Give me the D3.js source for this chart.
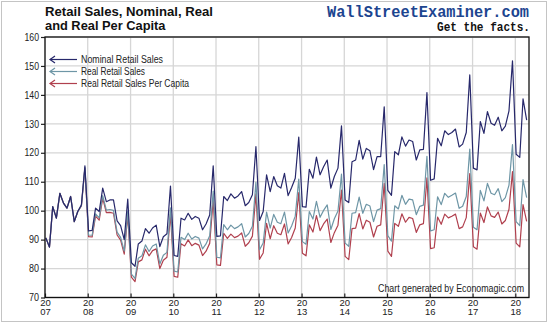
<!DOCTYPE html>
<html>
<head>
<meta charset="utf-8">
<script src="https://cdn.jsdelivr.net/npm/d3@7"></script>
<style>
  html, body { margin: 0; padding: 0; background: #ffffff; }
  svg { display: block; }
</style>
</head>
<body>
<div id="chart"></div>
<script>
// Monthly index values, January 2007 onward
const startYear = 2007;
const yearTicks = [2007, 2008, 2009, 2010, 2011, 2012, 2013, 2014, 2015, 2016, 2017, 2018];
const valueTicks = [70, 80, 90, 100, 110, 120, 130, 140, 150, 160];

const nominal = [
  90.6, 87.4, 101.4, 97.4, 106.0, 102.6, 100.9, 104.9, 96.2, 99.7, 102.0, 115.5,
  93.0, 93.2, 100.9, 99.7, 107.8, 103.1, 103.7, 103.7, 96.5, 94.8, 90.0, 104.0,
  82.0, 80.8, 88.5, 89.5, 93.8, 92.2, 94.0, 95.0, 87.6, 91.0, 92.0, 108.5,
  84.5, 84.2, 97.4, 96.8, 99.1, 97.0, 98.0, 97.4, 93.4, 95.4, 98.5, 115.5,
  91.1, 91.3, 104.9, 103.5, 105.8, 104.3, 105.1, 106.6, 101.7, 102.8, 105.5, 122.1,
  96.6, 99.7, 112.4, 106.6, 111.8, 108.6, 107.8, 112.9, 105.2, 108.0, 111.2, 125.4,
  101.4, 101.2, 114.3, 111.2, 118.5, 112.4, 115.2, 117.5, 107.8, 111.8, 114.7, 129.3,
  103.7, 102.8, 116.9, 117.5, 124.3, 117.8, 121.5, 120.7, 114.2, 118.7, 118.7, 135.9,
  107.0, 105.3, 120.4, 119.3, 125.5, 122.3, 124.4, 123.9, 117.5, 121.0, 121.2, 140.8,
  110.5, 111.0, 125.0, 122.4, 127.6, 126.3, 127.0, 128.2, 122.0, 123.0, 127.0, 146.9,
  114.7, 114.1, 130.8, 126.7, 134.2, 130.2, 129.5, 132.3, 127.6, 129.2, 134.5, 151.8,
  119.5, 118.4, 138.6, 131.3
];

const real = [
  90.6, 87.4, 101.4, 97.4, 106.0, 102.6, 100.9, 104.9, 96.2, 99.7, 101.7, 114.9,
  91.6, 91.5, 98.9, 97.5, 105.2, 100.2, 100.4, 100.1, 92.6, 90.8, 86.0, 99.8,
  78.1, 76.6, 83.6, 84.4, 88.2, 85.9, 87.8, 88.5, 81.6, 84.6, 85.6, 101.0,
  79.1, 78.8, 90.8, 90.0, 92.2, 90.2, 91.1, 90.5, 86.8, 88.5, 91.3, 106.8,
  83.9, 83.7, 95.2, 93.4, 95.0, 93.8, 94.4, 95.5, 90.9, 92.1, 94.6, 109.8,
  86.5, 88.8, 99.5, 94.0, 98.7, 96.0, 95.5, 99.5, 92.3, 94.7, 98.1, 110.9,
  89.3, 88.4, 99.7, 97.1, 103.2, 97.7, 100.1, 102.0, 93.5, 97.2, 99.9, 112.6,
  88.8, 87.7, 99.1, 99.3, 104.7, 99.1, 102.2, 101.6, 96.2, 100.2, 100.7, 115.9,
  91.4, 89.5, 101.7, 100.6, 105.3, 102.2, 104.0, 103.7, 98.6, 101.5, 101.9, 118.8,
  93.0, 93.4, 104.8, 102.1, 106.0, 104.6, 105.3, 106.1, 100.8, 101.5, 104.9, 121.3,
  94.3, 93.4, 107.0, 103.4, 109.4, 106.0, 105.5, 107.6, 103.1, 104.5, 108.8, 122.8,
  96.2, 94.8, 110.7, 104.5
];

const perCapita = [
  90.6, 87.4, 101.4, 97.4, 106.0, 102.6, 100.9, 104.9, 96.2, 99.7, 101.6, 114.7,
  91.0, 90.9, 98.1, 96.7, 104.3, 99.3, 99.4, 99.1, 91.6, 89.8, 85.0, 98.6,
  77.0, 75.5, 82.3, 83.0, 86.7, 84.4, 86.2, 86.8, 80.0, 82.9, 83.9, 98.9,
  77.3, 77.0, 88.6, 87.8, 89.9, 87.9, 88.7, 88.1, 84.5, 86.0, 88.7, 103.7,
  81.3, 81.1, 92.2, 90.4, 91.9, 90.7, 91.2, 92.3, 87.7, 88.9, 91.2, 105.8,
  83.2, 85.4, 95.6, 90.3, 94.8, 92.2, 91.7, 95.4, 88.5, 90.7, 94.0, 106.2,
  85.3, 84.4, 95.1, 92.6, 98.3, 93.1, 95.4, 97.1, 89.0, 92.4, 95.0, 107.1,
  84.2, 83.1, 93.8, 94.0, 99.0, 93.7, 96.7, 96.0, 90.9, 94.6, 95.1, 109.4,
  86.0, 84.2, 95.6, 94.6, 98.9, 96.0, 97.7, 97.3, 92.5, 95.1, 95.5, 111.3,
  86.9, 87.2, 97.8, 95.3, 98.8, 97.5, 98.1, 98.8, 93.8, 94.4, 97.6, 112.8,
  87.5, 86.7, 99.2, 95.9, 101.3, 98.2, 97.7, 99.5, 95.4, 96.6, 100.5, 113.5,
  88.8, 87.5, 102.1, 96.3
];

const seriesNames = ["Nominal Retail Sales", "Real Retail Sales", "Real Retail Sales Per Capita"];
const seriesColors = ["#27286b", "#6e96a6", "#b0404e"];

const W = 550, H = 326;
const plot = { left: 45, right: 529, top: 37, bottom: 297.5 };

const svg = d3.select("#chart").append("svg")
  .attr("width", W).attr("height", H)
  .style("font-family", "Arial, 'Liberation Sans', sans-serif");

// outer frame
svg.append("rect")
  .attr("x", 1.5).attr("y", 1.5).attr("width", 545).attr("height", 320)
  .attr("fill", "#ffffff").attr("stroke", "#c4c4c4").attr("stroke-width", 1);

const monthDate = i => new Date(startYear + Math.floor(i / 12), i % 12, 8);

const x = d3.scaleTime()
  .domain([new Date(2007, 0, 1), new Date(2018, 3, 28)])
  .range([plot.left, plot.right]);
const y = d3.scaleLinear()
  .domain([70, 160])
  .range([plot.bottom, plot.top]);

// grid
const grid = svg.append("g");
grid.selectAll(".gy").data(valueTicks).join("line")
  .attr("x1", plot.left).attr("x2", plot.right)
  .attr("y1", d => y(d)).attr("y2", d => y(d))
  .attr("stroke", "#d6d6d6").attr("stroke-width", 1.3);
grid.selectAll(".gx").data(yearTicks).join("line")
  .attr("x1", d => x(new Date(d, 0, 1))).attr("x2", d => x(new Date(d, 0, 1)))
  .attr("y1", plot.top).attr("y2", plot.bottom)
  .attr("stroke", "#d6d6d6").attr("stroke-width", 1.3);

// y axis
const yAxis = d3.axisLeft(y).tickValues(valueTicks).tickSize(4).tickPadding(2);
const gy = svg.append("g").attr("transform", `translate(${plot.left},0)`).call(yAxis);
gy.select(".domain").remove();
gy.selectAll(".tick line").attr("stroke", "#222").attr("stroke-width", 1.2);
gy.selectAll(".tick text")
  .attr("font-size", 10).attr("fill", "#222")
  .attr("textLength", 14.5).attr("lengthAdjust", "spacingAndGlyphs")
  .attr("font-family", "Arial, 'Liberation Sans', sans-serif");
gy.selectAll(".tick text").filter(d => d < 100)
  .attr("textLength", 10);

// x axis with two-line year labels
const xAxis = d3.axisBottom(x)
  .tickValues(yearTicks.map(d => new Date(d, 0, 1)))
  .tickSize(0).tickFormat("");
const gx = svg.append("g").attr("transform", `translate(0,${plot.bottom})`).call(xAxis);
gx.select(".domain").remove();
gx.selectAll(".tick").each(function (d) {
  const g = d3.select(this);
  const yr = String(d.getFullYear());
  g.append("line").attr("y1", -4).attr("y2", 0).attr("stroke", "#222").attr("stroke-width", 1.2);
  g.append("text").attr("y", 8).attr("text-anchor", "middle").attr("font-size", 9.5)
    .attr("fill", "#222").text(yr.slice(0, 2));
  g.append("text").attr("y", 17.5).attr("text-anchor", "middle").attr("font-size", 9.5)
    .attr("fill", "#222").text(yr.slice(2));
});

// series lines
const line = d3.line()
  .x((d, i) => x(monthDate(i)))
  .y(d => y(d));
const drawOrder = [
  { values: perCapita, color: seriesColors[2] },
  { values: real, color: seriesColors[1] },
  { values: nominal, color: seriesColors[0] }
];
drawOrder.forEach(s => {
  svg.append("path").datum(s.values)
    .attr("d", line)
    .attr("fill", "none")
    .attr("stroke", s.color)
    .attr("stroke-width", 1.2)
    .attr("stroke-linejoin", "round");
});

// plot frame
svg.append("rect")
  .attr("x", plot.left).attr("y", plot.top)
  .attr("width", plot.right - plot.left).attr("height", plot.bottom - plot.top)
  .attr("fill", "none").attr("stroke", "#111").attr("stroke-width", 1.3);

// legend with arrows
const legendRows = [59.5, 71.5, 83.5];
const legendWidths = [82, 64, 108];
seriesNames.forEach((name, i) => {
  const ly = legendRows[i];
  const c = seriesColors[i];
  svg.append("line").attr("x1", 50).attr("x2", 77).attr("y1", ly).attr("y2", ly)
    .attr("stroke", c).attr("stroke-width", 1.2);
  svg.append("path").attr("d", `M55,${ly - 3.5} L50,${ly} L55,${ly + 3.5}`)
    .attr("fill", "none").attr("stroke", c).attr("stroke-width", 1.2);
  svg.append("text").attr("x", 81).attr("y", ly + 3.5)
    .attr("font-size", 10).attr("fill", "#222")
    .attr("textLength", legendWidths[i]).attr("lengthAdjust", "spacingAndGlyphs")
    .text(name);
});

// title
svg.append("text").attr("x", 45).attr("y", 15.5)
  .attr("font-size", 13).attr("font-weight", "bold").attr("fill", "#111")
  .attr("textLength", 168).attr("lengthAdjust", "spacingAndGlyphs")
  .text("Retail Sales, Nominal, Real");
svg.append("text").attr("x", 45).attr("y", 30)
  .attr("font-size", 13).attr("font-weight", "bold").attr("fill", "#111")
  .attr("textLength", 120.5).attr("lengthAdjust", "spacingAndGlyphs")
  .text("and Real Per Capita");

// site banner
svg.append("text").attr("x", 327).attr("y", 16.5)
  .attr("font-family", "'Liberation Mono', 'Courier New', monospace")
  .attr("font-size", 16).attr("font-weight", "bold").attr("fill", "#1d4590")
  .attr("textLength", 202).attr("lengthAdjust", "spacingAndGlyphs")
  .text("WallStreetExaminer.com");
svg.append("text").attr("x", 437).attr("y", 30.5)
  .attr("font-family", "'Liberation Mono', 'Courier New', monospace")
  .attr("font-size", 12.5).attr("font-weight", "bold").attr("fill", "#111")
  .attr("textLength", 93).attr("lengthAdjust", "spacingAndGlyphs")
  .text("Get the facts.");

// credit
svg.append("text").attr("x", 378).attr("y", 292)
  .attr("font-size", 10).attr("fill", "#222")
  .attr("textLength", 146).attr("lengthAdjust", "spacingAndGlyphs")
  .text("Chart generated by Economagic.com");
</script>
</body>
</html>
